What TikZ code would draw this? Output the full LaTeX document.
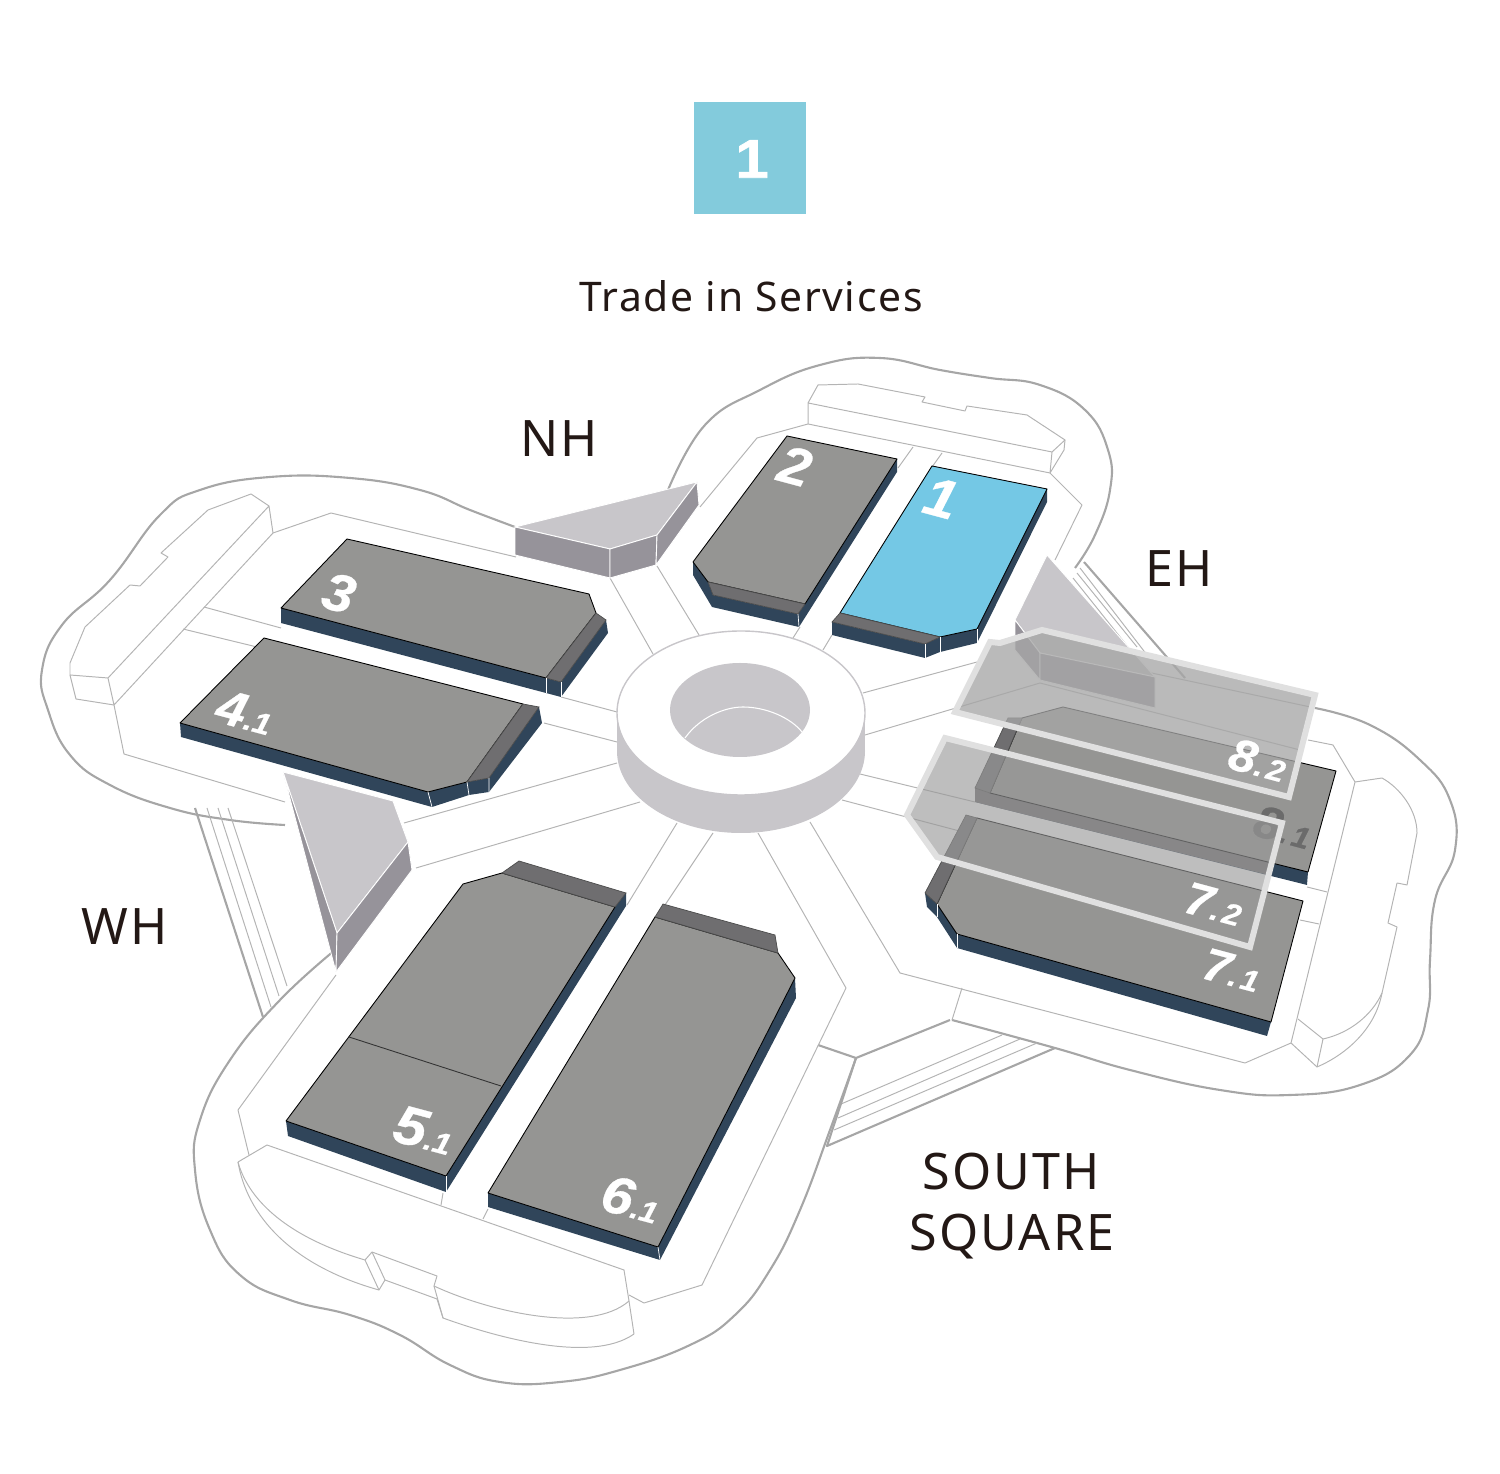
\documentclass[tikz,border=0pt]{standalone}
\usepackage{fontspec}
\usepackage{xcolor}
\usetikzlibrary{calc}
\newfontfamily\zonefont[LetterSpace=4]{Noto Sans}
\newfontfamily\hallfont[UprightFont=*/BI,FakeBold=0.6,FakeStretch=1.08]{Liberation Sans}
\newfontfamily\badgefont[UprightFont=*/B,FakeBold=1.2,FakeStretch=1.1]{Liberation Sans}
\definecolor{hallgray}{HTML}{959593}
\definecolor{hallband}{HTML}{6F6E70}
\definecolor{hallside}{HTML}{30455A}
\definecolor{hallblue}{HTML}{74C8E5}
\definecolor{badgeblue}{HTML}{83CBDC}
\definecolor{gatetop}{HTML}{C8C6CA}
\definecolor{gatewall}{HTML}{96939A}
\definecolor{hiddenwall}{HTML}{6A686C}
\definecolor{siteline}{HTML}{A6A6A6}
\definecolor{thinline}{HTML}{B4B4B4}
\definecolor{inkdark}{HTML}{231815}
\newcommand{\hallnum}[3][15]{{\hallfont\fontsize{#1}{#1}\selectfont #2\fontsize{8.5}{8.5}\selectfont #3}}
\tikzset{
  outerline/.style={draw=siteline,line width=0.6pt,line join=round},
  innerline/.style={draw=thinline,line width=0.28pt,line join=round},
  halltop/.style={fill=hallgray,draw=black,line width=0.25pt,line join=round},
  bandface/.style={fill=hallband,draw=black!70,line width=0.2pt},
  sideface/.style={fill=hallside,draw=none},
  ridge/.style={draw=white,line width=0.2pt},
  gateface/.style={fill=gatetop,draw=white,line width=0.25pt},
  gateside/.style={fill=gatewall,draw=white,line width=0.25pt},
  floorlayer/.style={draw=#1,line width=1.7pt,line join=miter},
  zonelabel/.style={text=inkdark,font=\zonefont\fontsize{14.3}{14.3}\selectfont,inner sep=0pt},
  halllabel/.style={text=white,rotate=-15,inner sep=0pt}
}
\begin{document}
\begin{tikzpicture}[x=0.01cm,y=-0.01cm]
  \useasboundingbox (0,0) rectangle (1500,1474);

  % badge and title
  \fill[badgeblue] (694,102) rectangle (806,214);
  \node[text=white,inner sep=0pt,font=\badgefont\fontsize{15.5}{15.5}\selectfont] (badge) at (752,159) {1};
  \node[text=inkdark,inner sep=0pt,font=\zonefont\fontsize{11.6}{11.6}\selectfont] (title) at (751,296) {Trade in Services};

  % zone names
  \node[zonelabel] (nh) at (559,439) {NH};
  \node[zonelabel] (eh) at (1179,569) {EH};
  \node[zonelabel] (wh) at (125,927) {WH};
  \node[zonelabel,anchor=base] (southword) at (1011,1189) {SOUTH};
  \node[zonelabel,anchor=base] (squareword) at (1012,1251) {SQUARE};

  % outer outline of the four lobes
  \draw[outerline] plot[smooth,tension=0.75] coordinates {(515,527) (470,510) (420,490) (350,478) (270,477) (200,490) (160,515) (110,580) (62,625) (42,670) (48,710) (70,755) (110,785) (170,808) (230,820) (285,825)};
  \draw[outerline] plot[smooth,tension=0.75] coordinates {(335,950) (280,1000) (230,1060) (200,1120) (195,1170) (210,1230) (240,1275) (290,1300) (350,1315) (400,1335) (450,1365) (500,1382) (560,1382) (620,1370) (690,1345) (735,1315) (770,1270) (800,1210) (830,1130) (856,1058)};
  \draw[outerline] plot[smooth,tension=0.75] coordinates {(952,1020) (1055,1048) (1130,1070) (1220,1090) (1290,1095) (1360,1085) (1410,1055) (1428,1010) (1430,960) (1435,900) (1455,850) (1450,800) (1420,760) (1370,725) (1315,708)};
  \draw[outerline] plot[smooth,tension=0.75] coordinates {(1075,568) (1095,535) (1110,490) (1108,450) (1085,410) (1040,385) (990,378) (940,370) (880,358) (820,365) (760,390) (705,425) (668,490)};

  % bridges between the lobes
  \foreach \xa/\ya/\xb/\yb in {207/808/271/1007,218/808/279/996,228/808/287/986,
      1080/568/1147/655,1077/573/1137/647,1073/578/1128/647,
      841/1104/1002/1035,838/1118/1020/1039,834/1130/1037/1043}
    \draw[innerline] (\xa,\ya) -- (\xb,\yb);
  \draw[outerline] (195,808) -- (263,1017);
  \draw[outerline] (1084,562) -- (1185,678);
  \draw[outerline] (818,1045) -- (856,1058) -- (950,1020);
  \draw[outerline] (856,1058) -- (827,1146) -- (1055,1048);

  % site lines, west
  \draw[innerline] (516,557) -- (331,513) -- (273,533);
  \draw[innerline] (114,705) -- (124,754) -- (285,802);
  \draw[innerline] (204,607) -- (281,628);
  \draw[innerline] (183,629) -- (257,647);
  \draw[innerline] (561,697) -- (617,712);
  \draw[innerline] (544,723) -- (617,742);
  \draw[innerline] (404,823) -- (617,763);
  \draw[innerline] (416,868) -- (640,802);
  \draw[innerline] (610,578) -- (653,654);
  \draw[innerline] (657,566) -- (699,635);

  % site lines, north
  \draw[innerline] (700,507) -- (757,438) -- (808,424) -- (1050,473) -- (1082,505) -- (1055,560);
  \draw[innerline] (913,447) -- (898,468);
  \draw[innerline] (942,453) -- (932,467);
  \draw[innerline] (793,638) -- (800,627);
  \draw[innerline] (823,650) -- (832,635);
  \draw[innerline] (863,693) -- (977,662);
  \draw[innerline] (865,735) -- (1040,683);

  % site lines, south
  \draw[innerline] (336,975) -- (238,1110) -- (249,1155);
  \draw[innerline] (677,823) -- (627,905);
  \draw[innerline] (713,833) -- (665,905);
  \draw[innerline] (758,833) -- (846,988) -- (702,1285) -- (644,1303) -- (629,1295);
  \draw[innerline] (810,822) -- (900,973) -- (1245,1063) -- (1291,1043);
  \draw[innerline] (443,1193) -- (441,1205);
  \draw[innerline] (488,1209) -- (483,1219);
  \draw[innerline] (962,988) -- (952,1020);

  % site lines, east
  \draw[innerline] (1147,672) -- (1315,708);
  \draw[innerline] (1040,683) -- (1300,750);
  \draw[innerline] (1308,740) -- (1333,745) -- (1355,782) -- (1291,1043) -- (1317,1067);
  \draw[innerline] (860,774) -- (975,802);
  \draw[innerline] (842,800) -- (967,833);
  \draw[innerline] (1307,887) -- (1327,892);
  \draw[innerline] (1300,920) -- (1319,924);

  % west building
  \draw[innerline] (269,506) -- (251,494) -- (208,510) -- (161,553) -- (168,557) -- (140,586) -- (130,585) -- (85,627) -- (70,663) -- (70,675) -- (108,678) -- (269,506) -- (273,533) -- (114,705) -- (108,678);
  \draw[innerline] (70,675) -- (76,699) -- (114,705);

  % north building
  \draw[innerline] (808,403) -- (818,385) -- (858,384) -- (925,397) -- (922,402) -- (965,411) -- (967,406) -- (1027,415) -- (1065,440) -- (1052,452) -- (808,403) -- (808,424);
  \draw[innerline] (1052,452) -- (1050,473) -- (1064,450) -- (1065,440);

  % south building
  \draw[innerline] (238,1162) -- (267,1145) -- (624,1270) -- (629,1301) -- (634,1334);
  \draw[innerline] (238,1162) .. controls (247,1195) and (280,1235) .. (365,1260) -- (372,1252) -- (437,1276) -- (434,1286) .. controls (490,1312) and (590,1335) .. (629,1301);
  \draw[innerline] (238,1162) .. controls (247,1215) and (290,1265) .. (379,1290) -- (385,1280) -- (437,1299) -- (443,1318) .. controls (490,1335) and (590,1365) .. (634,1334);
  \draw[innerline] (365,1260) -- (379,1290);
  \draw[innerline] (372,1252) -- (385,1280);
  \draw[innerline] (434,1286) -- (443,1318);

  % east building
  \draw[innerline] (1355,782) -- (1382,778) .. controls (1400,788) and (1417,810) .. (1417,833) -- (1407,885) -- (1397,883) -- (1388,923) -- (1397,927) -- (1382,993) .. controls (1372,1015) and (1350,1033) .. (1323,1039) -- (1298,1019);
  \draw[innerline] (1382,993) .. controls (1375,1030) and (1345,1055) .. (1317,1067) -- (1323,1039);

  % hall 3
  \fill[hallside] (281,608) -- (281,623) -- (546,693) -- (561,697) -- (608,633) -- (606,620) -- (561,682) -- (546,678) -- cycle;
  \draw[halltop] (347,539) -- (589,594) -- (596,613) -- (546,678) -- (281,608) -- cycle;
  \draw[bandface] (596,613) -- (606,620) -- (561,682) -- (546,678) -- cycle;
  \draw[ridge] (546,678) -- (546,693) (561,682) -- (561,697);

  % hall 4.1
  \fill[hallside] (180,723) -- (181,737) -- (432,807) -- (469,795) -- (489,792) -- (542,723) -- (539,707) -- (489,778) -- (467,782) -- (428,792) -- cycle;
  \draw[halltop] (264,638) -- (523,704) -- (467,782) -- (428,792) -- (180,723) -- cycle;
  \draw[bandface] (523,704) -- (539,707) -- (489,778) -- (467,782) -- cycle;
  \draw[ridge] (428,792) -- (432,807) (467,782) -- (469,795) (489,778) -- (489,792);

  % hall 2
  \fill[hallside] (693,562) -- (693,575) -- (712,607) -- (799,627) -- (897,472) -- (897,459) -- (805,604) -- (798,614) -- (713,595) -- (708,582) -- cycle;
  \draw[halltop] (787,436) -- (897,459) -- (805,604) -- (708,582) -- (693,562) -- cycle;
  \draw[bandface] (708,582) -- (805,604) -- (798,614) -- (713,595) -- cycle;
  \draw[ridge] (798,614) -- (799,627);

  % hall 1
  \fill[hallside] (832,622) -- (832,635) -- (925,658) -- (940,652) -- (977,643) -- (1047,502) -- (1047,489) -- (977,629) -- (940,637) -- (925,644) -- cycle;
  \draw[halltop,fill=hallblue] (932,466) -- (1047,489) -- (977,629) -- (940,637) -- (840,613) -- cycle;
  \draw[bandface] (840,613) -- (940,637) -- (925,644) -- (832,622) -- cycle;
  \draw[ridge] (925,644) -- (925,658) (940,637) -- (940,652) (977,629) -- (977,643);

  % hall 5.1
  \fill[hallside] (286,1121) -- (288,1136) -- (446,1192) -- (626,906) -- (626,893) -- (615,907) -- (446,1176) -- cycle;
  \draw[halltop] (502,873) -- (615,907) -- (446,1176) -- (286,1121) -- (463,884) -- cycle;
  \draw[bandface] (502,873) -- (519,861) -- (626,893) -- (615,907) -- cycle;
  \draw[black!80,line width=0.25pt] (349,1037) -- (501,1086);
  \draw[ridge] (446,1176) -- (446,1192);

  % hall 6.1
  \fill[hallside] (488,1193) -- (488,1207) -- (660,1260) -- (796,998) -- (795,978) -- (658,1247) -- cycle;
  \draw[halltop] (655,917) -- (778,953) -- (795,978) -- (658,1247) -- (488,1193) -- cycle;
  \draw[bandface] (663,904) -- (775,935) -- (778,953) -- (655,917) -- cycle;
  \draw[ridge] (658,1247) -- (660,1260);

  % gates
  \draw[gateface] (697,482) -- (515,527) -- (610,549) -- (657,535) -- cycle;
  \draw[gateside] (515,527) -- (610,549) -- (610,578) -- (515,555) -- cycle;
  \draw[gateside] (610,549) -- (657,535) -- (656,565) -- (610,578) -- cycle;
  \draw[gateside] (657,535) -- (697,482) -- (699,505) -- (656,565) -- cycle;
  \draw[gateface] (283,772) -- (393,801) -- (408,842) -- (337,933) -- cycle;
  \draw[gateside] (283,772) -- (337,933) -- (336,972) -- cycle;
  \draw[gateside] (408,842) -- (412,870) -- (336,972) -- (337,933) -- cycle;
  \draw[gateface] (1047,555) -- (1155,677) -- (1040,653) -- (1015,620) -- cycle;
  \draw[gateside] (1015,620) -- (1040,653) -- (1040,680) -- (1015,650) -- cycle;
  \draw[gateside] (1040,653) -- (1155,677) -- (1155,708) -- (1040,680) -- cycle;

  % central ring
  \fill[gatetop] (741,751) ellipse[x radius=124,y radius=82];
  \fill[gatetop] (617,713) rectangle (865,751);
  \draw[gatetop,fill=white,line width=0.4pt] (741,713) ellipse[x radius=124,y radius=82];
  \fill[gatetop] (740,710) ellipse[x radius=70,y radius=47];
  \draw[white,line width=0.3pt] (685,738) .. controls (700,717) and (725,707) .. (743,707) .. controls (765,707) and (790,717) .. (802,732);

  % hall 8.1, lower floor
  \fill[hallside] (975,788) -- (975,802) -- (1307,885) -- (1308,872) -- cycle;
  \fill[hiddenwall] (975,788) -- (975,802) -- (1269,875) -- (1272,862) -- cycle;
  \draw[halltop] (1022,718) -- (1063,707) -- (1336,771) -- (1308,872) -- (990,793) -- cycle;
  \draw[bandface] (1008,718) -- (1022,718) -- (990,793) -- (975,788) -- cycle;
  \node[halllabel,text=black!58] (hall81) at (1283,827) {\hallnum[13]{8}{.\kern1pt 1}};

  % hall 7.1, lower floor
  \fill[hallside] (925,893) -- (927,907) -- (937,917) -- (957,948) -- (1267,1036) -- (1271,1022) -- (957,934) -- (937,904) -- cycle;
  \draw[halltop] (977,818) -- (1303,901) -- (1271,1022) -- (957,934) -- (937,904) -- cycle;
  \draw[bandface] (966,815) -- (977,818) -- (937,904) -- (925,893) -- cycle;
  \draw[ridge] (937,904) -- (937,917) (957,934) -- (957,948);

  % upper floors, see-through
  \draw[floorlayer=black!12,fill=black!35,fill opacity=0.78] (990,642) -- (1000,643) -- (1042,630) -- (1315,695) -- (1289,797) -- (955,712) -- cycle;
  \draw[floorlayer=black!12,fill=black!40,fill opacity=0.64] (945,738) -- (1282,823) -- (1250,947) -- (937,857) -- (907,815) -- cycle;

  % hall numbers
  \node[halllabel] (hall1) at (941,498) {\hallnum[15.5]{1}{}};
  \node[halllabel] (hall2) at (795,466) {\hallnum{2}{}};
  \node[halllabel] (hall3) at (339,593) {\hallnum{3}{}};
  \node[halllabel] (hall41) at (245,712) {\hallnum[14]{4}{.1}};
  \node[halllabel] (hall51) at (424,1130) {\hallnum[15.5]{5}{.1}};
  \node[halllabel] (hall61) at (631,1199) {\hallnum{6}{.1}};
  \node[halllabel] (hall71) at (1232,970) {\hallnum[13]{7}{.\kern1pt 1}};
  \node[halllabel] (hall72) at (1214,904) {\hallnum[13]{7}{.\kern1pt 2}};
  \node[halllabel] (hall82) at (1258,760) {\hallnum[13]{8}{.\kern1pt 2}};
\end{tikzpicture}
\end{document}
